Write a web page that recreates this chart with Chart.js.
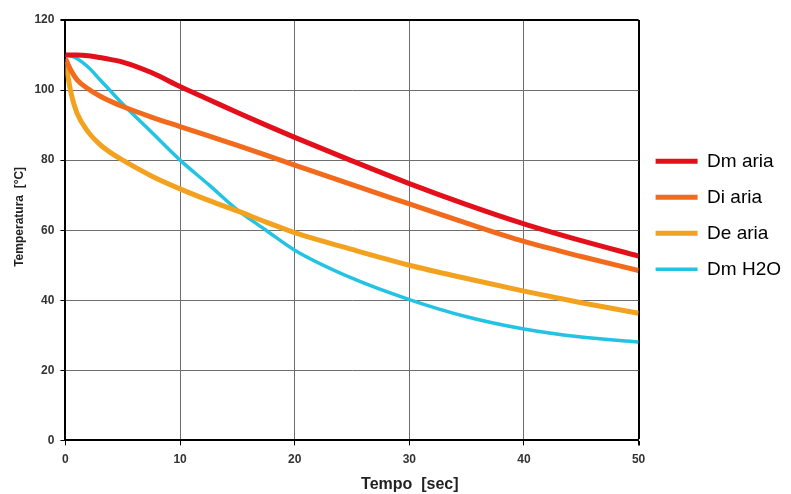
<!DOCTYPE html>
<html>
<head>
<meta charset="utf-8">
<script src="https://cdn.jsdelivr.net/npm/chart.js@4.4.1/dist/chart.umd.min.js"></script>
<style>
  html, body { margin: 0; padding: 0; background: #fff; }
  #wrap { width: 791px; height: 494px; }
</style>
</head>
<body>
<div id="wrap"><canvas id="myChart" width="791" height="494"></canvas></div>
<script>
// tempo [sec]
const times = [0, 0.5, 1, 2, 3, 4, 5, 7.5, 10, 12.5, 15, 17.5, 20, 25, 30, 35, 40, 45, 50];

const dmAria = [110, 110, 110, 109.8, 109.3, 108.7, 108, 105, 101, 97.3, 93.6, 90, 86.5, 79.8, 73.3, 67.3, 61.8, 57, 52.6];
const diAria = [109, 105.5, 103, 100.3, 98.3, 96.7, 95.3, 92.3, 89.6, 86.9, 84.2, 81.4, 78.6, 73, 67.5, 62, 56.8, 52.5, 48.5];
const deAria = [108, 99, 93.5, 88, 84.5, 82, 80, 75.5, 71.8, 68.5, 65.5, 62.3, 59.3, 54.5, 50, 46.2, 42.6, 39.3, 36.3];
const dmH2O = [110, 109.7, 109, 106.5, 103, 99.5, 96, 88, 80, 73, 65.8, 60, 54.3, 46.3, 40.2, 35.3, 31.8, 29.5, 28.1];

const seriesNames = ["Dm aria", "Di aria", "De aria", "Dm H2O"];
const xTicks = [0, 10, 20, 30, 40, 50];
const yTicks = [0, 20, 40, 60, 80, 100, 120];

function toPoints(values) {
  let pts = [];
  for (let i = 0; i < times.length; i++) {
    pts.push({ x: times[i], y: values[i] });
  }
  return pts;
}

const colors = ['#e3101b', '#f26b1d', '#f3a21f', '#22c3e3'];
const widths = [5, 5, 5, 3.5];
const allValues = [dmAria, diAria, deAria, dmH2O];

const datasets = allValues.map((vals, i) => ({
  label: seriesNames[i],
  data: toPoints(vals),
  borderColor: colors[i],
  backgroundColor: colors[i],
  borderWidth: widths[i],
  pointRadius: 0,
  cubicInterpolationMode: 'monotone',
  fill: false
}));

const fontFam = 'Liberation Sans, Arial, sans-serif';
const tickFont = { family: fontFam, size: 12, weight: 'bold' };

// titles sit off-centre in the original, leading spaces push them over
const xTitle = ' '.repeat(26) + 'Tempo  [sec]';
const yTitle = ' '.repeat(8) + 'Temperatura  [°C]';

const config = {
  type: 'line',
  data: { datasets },
  options: {
    responsive: false,
    animation: false,
    layout: { padding: { top: 20, left: 2, right: 0, bottom: 0 } },
    plugins: {
      tooltip: { enabled: false },
      legend: {
        position: 'right',
        align: 'start',
        title: {
          display: true,
          text: ' ',
          font: { family: fontFam, size: 19 },
          padding: { top: 0, bottom: 92 }
        },
        labels: {
          usePointStyle: true,
          pointStyle: 'line',
          pointStyleWidth: 42,
          boxHeight: 4,
          padding: 17,
          color: '#000',
          font: { family: fontFam, size: 19 }
        }
      }
    },
    scales: {
      x: {
        type: 'linear',
        min: 0,
        max: 50,
        afterBuildTicks: (axis) => { axis.ticks = xTicks.map(v => ({ value: v })); },
        ticks: { color: '#333', font: tickFont, padding: 7, maxRotation: 0 },
        grid: {
          color: (c) => (c.tick && c.tick.value === 50) ? '#000' : '#6e6e6e',
          lineWidth: (c) => (c.tick && c.tick.value === 50) ? 2 : 1,
          tickColor: '#000',
          tickLength: 5
        },
        border: { color: '#000', width: 2 },
        title: {
          display: true,
          text: xTitle,
          color: '#222',
          font: { family: fontFam, size: 16, weight: 'bold' },
          padding: { top: 1, bottom: 0 }
        }
      },
      y: {
        min: 0,
        max: 120,
        afterBuildTicks: (axis) => { axis.ticks = yTicks.map(v => ({ value: v })); },
        ticks: { color: '#333', font: tickFont, padding: 6 },
        grid: {
          color: (c) => (c.tick && c.tick.value === 120) ? '#000' : '#6e6e6e',
          lineWidth: (c) => (c.tick && c.tick.value === 120) ? 2 : 1,
          tickColor: '#000',
          tickLength: 5
        },
        border: { color: '#000', width: 2 },
        title: {
          display: true,
          text: yTitle,
          color: '#222',
          font: { family: fontFam, size: 12, weight: 'bold' },
          padding: { top: 10, bottom: 2 }
        }
      }
    }
  }
};

var myChart = new Chart(document.getElementById('myChart'), config);
</script>
</body>
</html>
